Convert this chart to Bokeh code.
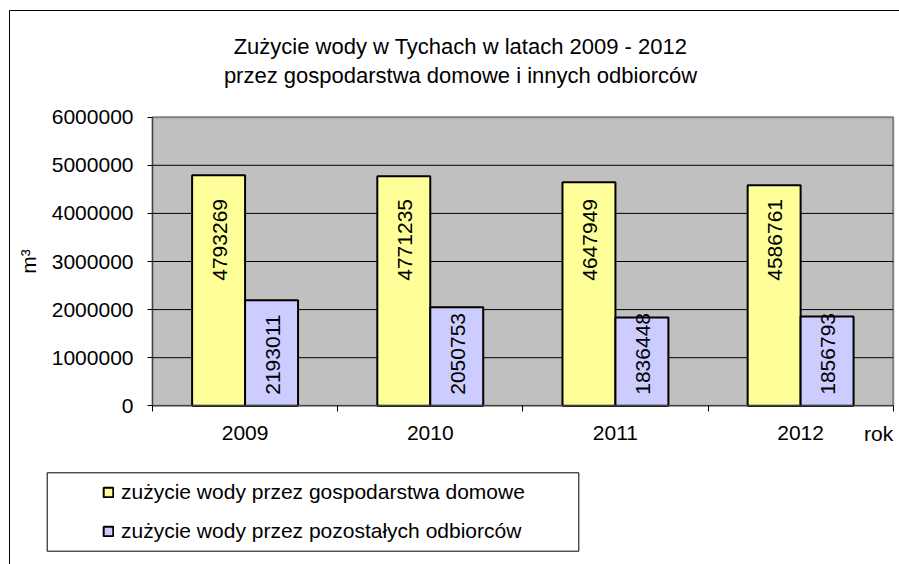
import math
from bokeh.plotting import figure
from bokeh.models import (FixedTicker, NumeralTickFormatter, Range1d, Legend, LegendItem,
                          LinearAxis, ColumnDataSource)
from bokeh.core.properties import value
from bokeh.embed import file_html
from bokeh.resources import INLINE

# ---- data ----
years = ["2009", "2010", "2011", "2012"]
households = [4793269, 4771235, 4647949, 4586761]
others = [2193011, 2050753, 1836448, 1856793]
y_ticks = [0, 1000000, 2000000, 3000000, 4000000, 5000000, 6000000]
title_lines = ["Zużycie wody w Tychach w latach 2009 - 2012",
               "przez gospodarstwa domowe i innych odbiorców"]
legend_labels = ["zużycie wody przez gospodarstwa domowe",
                 "zużycie wody przez pozostałych odbiorców"]
y_axis_label = "m³"
x_axis_label = "rok"

# ---- layout / style (pixels in the page) ----
FONT = "Liberation Sans"
FS = "21px"
W, H = 899, 564
PLOT_L, PLOT_R, PLOT_T, PLOT_B = 152.0, 892.7, 116.7, 405.3
BAR_W = 0.286
LABEL_START_H = 2600000
LABEL_START_O = 230000

n = len(years)
ymax = y_ticks[-1]
ppc = (PLOT_R - PLOT_L) / n            # px per category
ppu = (PLOT_B - PLOT_T) / ymax         # px per unit
x0 = -PLOT_L / ppc
x1 = n + (W - PLOT_R) / ppc
y0 = -(H - PLOT_B) / ppu
y1 = ymax + PLOT_T / ppu


def px_x(px):
    return x0 + px / ppc


def px_y(py):
    return ymax + (PLOT_T - py) / ppu


centers = [i + 0.5 for i in range(n)]
src_h = ColumnDataSource(dict(x=[c - BAR_W / 2 for c in centers], top=households,
                              lbl=[str(v) for v in households],
                              ly=[LABEL_START_H] * n))
src_o = ColumnDataSource(dict(x=[c + BAR_W / 2 for c in centers], top=others,
                              lbl=[str(v) for v in others],
                              ly=[LABEL_START_O] * n))

p = figure(width=W, height=H, output_backend="svg", toolbar_location=None,
           x_range=Range1d(x0, x1), y_range=Range1d(y0, y1),
           x_axis_location=None, y_axis_location=None,
           min_border=0, background_fill_color="white", border_fill_color="white")
p.outline_line_color = None
p.grid.visible = False

# outer chart border
p.line(x=[px_x(W + 20), px_x(9), px_x(9)], y=[px_y(10), px_y(10), px_y(H + 20)],
       line_color="black", line_width=1)

# plot area
p.quad(left=0, right=n, bottom=0, top=ymax, fill_color="#C0C0C0",
       line_color="#808080", line_width=2)
# horizontal grid lines
gy = y_ticks[1:-1]
p.segment(x0=[0] * len(gy), x1=[n] * len(gy), y0=gy, y1=gy,
          line_color="black", line_width=1)

r_h = p.vbar(x="x", top="top", width=BAR_W, bottom=0, source=src_h,
             fill_color="#FFFF99", line_color="black", line_width=2)
r_o = p.vbar(x="x", top="top", width=BAR_W, bottom=0, source=src_o,
             fill_color="#CCCCFF", line_color="black", line_width=2)

for src in (src_h, src_o):
    p.text(x="x", y="ly", text="lbl", source=src, angle=math.pi / 2,
           text_align="left", text_baseline="middle", x_offset=1,
           text_font=value(FONT), text_font_size=FS, text_color="black")

# y axis
ya = LinearAxis(fixed_location=0, bounds=(0, ymax),
                ticker=FixedTicker(ticks=y_ticks),
                formatter=NumeralTickFormatter(format="0"))
ya.major_label_text_font = FONT
ya.major_label_text_font_size = FS
ya.major_label_text_color = "black"
ya.major_tick_out = 5
ya.major_tick_in = 0
ya.major_tick_line_color = "black"
ya.minor_tick_line_color = None
ya.major_label_standoff = 14
ya.axis_line_color = "#404040"
ya.axis_label = y_axis_label
ya.axis_label_text_font = FONT
ya.axis_label_text_font_size = FS
ya.axis_label_text_font_style = "normal"
ya.axis_label_text_color = "black"
ya.axis_label_standoff = 9
p.add_layout(ya, "left")

# x axis
xa = LinearAxis(fixed_location=0, bounds=(0, n),
                ticker=FixedTicker(ticks=centers, minor_ticks=list(range(n + 1))))
xa.major_label_overrides = {c: y for c, y in zip(centers, years)}
xa.major_label_text_font = FONT
xa.major_label_text_font_size = FS
xa.major_label_text_color = "black"
xa.major_tick_out = 0
xa.major_tick_in = 0
xa.minor_tick_out = 6
xa.minor_tick_in = 0
xa.minor_tick_line_color = "black"
xa.major_label_standoff = 14
xa.axis_line_color = "#404040"
p.add_layout(xa, "below")

# "rok"
p.text(x=[n], y=[px_y(433)], text=[x_axis_label], text_align="right",
       text_baseline="alphabetic", text_font=value(FONT), text_font_size=FS,
       text_color="black")

# title
p.text(x=[px_x(460)] * 2, y=[px_y(46), px_y(75)], text=title_lines,
       text_align="center", text_baseline="alphabetic",
       text_font=value(FONT), text_font_size="22px", text_color="black")

# legend box
p.quad(left=px_x(46.7), right=px_x(578.3), top=px_y(472.3), bottom=px_y(550.7),
       fill_color=None, line_color="black", line_width=1)

legend = Legend(items=[LegendItem(label=legend_labels[0], renderers=[r_h]),
                       LegendItem(label=legend_labels[1], renderers=[r_o])],
                location=(102, 21), orientation="vertical",
                glyph_width=12, glyph_height=12, label_height=24,
                label_standoff=7, spacing=15, padding=0, margin=0,
                label_text_font=FONT, label_text_font_size=FS,
                label_text_color="black",
                border_line_color=None, background_fill_alpha=0)
p.add_layout(legend)

open("out.html", "w").write(file_html(p, INLINE))
